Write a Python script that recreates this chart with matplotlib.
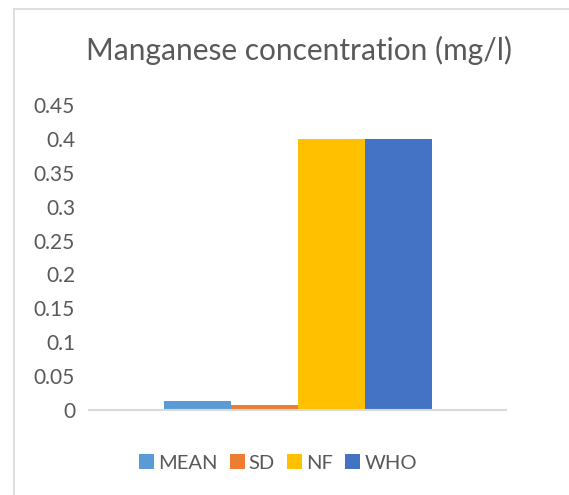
import matplotlib

matplotlib.use("Agg")
import matplotlib.pyplot as plt
from matplotlib.lines import Line2D

plt.rcParams["font.family"] = ["Lato", "DejaVu Sans"]

series = ["MEAN", "SD", "NF", "WHO"]
values = [0.014, 0.007, 0.4, 0.4]
colors = ["#5B9BD5", "#ED7D31", "#FFC000", "#4472C4"]
yticks = [0, 0.05, 0.1, 0.15, 0.2, 0.25, 0.3, 0.35, 0.4, 0.45]
ytick_labels = ["0", "0.05", "0.1", "0.15", "0.2", "0.25", "0.3", "0.35", "0.4", "0.45"]

W, H = 569, 495
fig = plt.figure(figsize=(W / 100, H / 100), dpi=100)
ax = fig.add_axes([89 / W, 1 - 410 / H, 417 / W, 305 / H])

bar_w = 67 / 417
for i, (name, val, col) in enumerate(zip(series, values, colors)):
    ax.bar((i - 1.5) * bar_w, val, width=bar_w, color=col, label=name, linewidth=0)

ax.set_xlim(-0.5, 0.5)
ax.set_ylim(0, 0.45)
ax.set_yticks(yticks)
ax.set_yticklabels(ytick_labels)
ax.set_xticks([])
ax.tick_params(axis="y", length=0, pad=10, labelsize=15, labelcolor="#595959")
for side in ["top", "right", "left"]:
    ax.spines[side].set_visible(False)
ax.spines["bottom"].set_color("#D9D9D9")
ax.spines["bottom"].set_linewidth(1.5)

fig.text(299 / W, 1 - 50 / H, "Manganese concentration (mg/l)", ha="center", va="center",
         fontsize=21.5, color="#595959")

fig.legend(loc="center", bbox_to_anchor=(278 / W, 1 - 463 / H), ncol=4, frameon=False,
           fontsize=14.5, handlelength=0.75, handleheight=0.75, handletextpad=0.2,
           columnspacing=0.6, labelcolor="#595959")

# outer chart border (partially visible in the crop)
fig.add_artist(Line2D([14 / W, 14 / W], [0, 1 - 9 / H], color="#D9D9D9", lw=1.2))
fig.add_artist(Line2D([14 / W, 1], [1 - 9 / H, 1 - 9 / H], color="#D9D9D9", lw=1.2))

fig.savefig("out.png", dpi=100)
